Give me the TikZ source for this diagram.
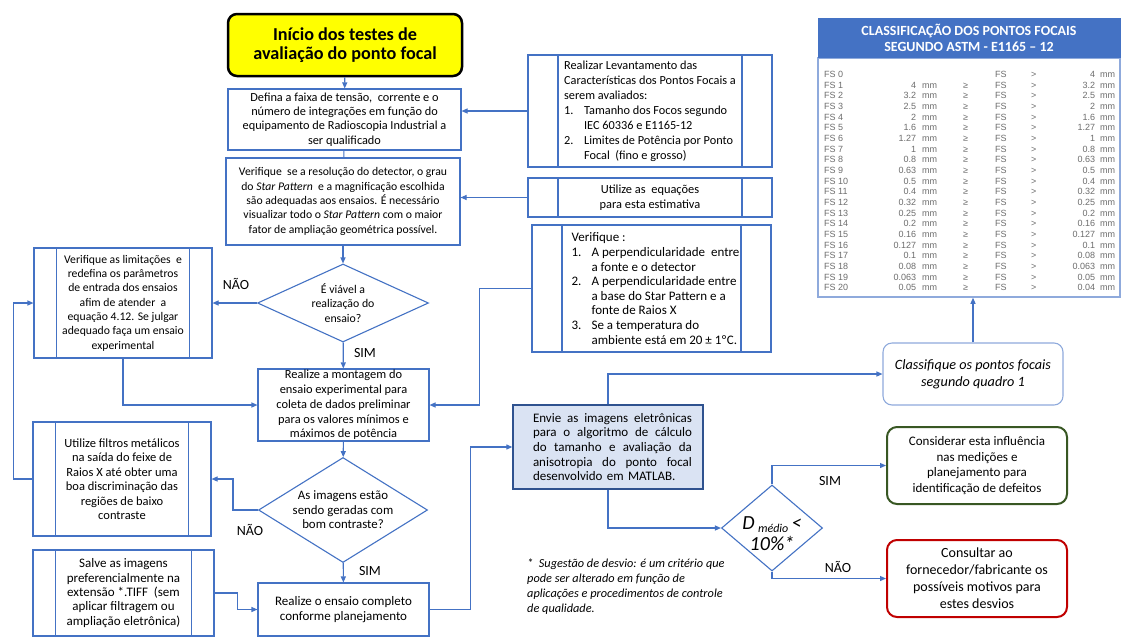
\documentclass[tikz,border=0pt]{standalone}
\usepackage{fontspec}
\setmainfont{Carlito}
\newfontfamily\tabfont{Liberation Sans}
\usepackage{array}
\usetikzlibrary{shapes.geometric,arrows.meta}

\definecolor{azul}{HTML}{4472C4}
\definecolor{azulesc}{HTML}{2F528F}
\definecolor{azulclaro}{HTML}{DAE3F3}
\definecolor{azulborda}{HTML}{8FAADC}
\definecolor{amarelo}{HTML}{FFFF00}
\definecolor{verde}{HTML}{385723}
\definecolor{vermelho}{HTML}{C00000}
\definecolor{cinza}{HTML}{6D6D6D}

% fontes
\newcommand{\tamanho}[2]{\fontsize{#1}{#2}\selectfont}
\newcommand{\corpo}{\tamanho{12.3}{14.3}}
\newcommand{\titulo}{\tamanho{18.2}{18.5}\bfseries}
\newcommand{\tabela}{\tabfont\tamanho{9}{10.65}}
% linhas justificadas e listas numeradas
\newcommand{\linhaj}[1]{\hspace*{9pt}{\spaceskip=0.25em plus 1em\makebox[159pt][s]{#1}}}
\newcommand{\numit}[1]{\makebox[20pt][l]{#1}}
\newcommand{\recuo}{\hspace*{20pt}}
\newcommand{\margem}{\hspace*{8pt}}

\begin{document}
\begin{tikzpicture}[
        x=1pt, y=-1pt,
        >={Triangle[length=6pt,width=5pt]}, % pontas das setas
        seta/.style={->, draw=azul, line width=1.1pt},
        caixa/.style={draw=azul, line width=1.1pt, fill=white, align=center, font=\corpo, inner sep=1pt},
        predef/.style={caixa, path picture={
            \draw[azul, line width=1.1pt]
              ([xshift=#1]path picture bounding box.north west) -- ([xshift=#1]path picture bounding box.south west)
              ([xshift=-#1]path picture bounding box.north east) -- ([xshift=-#1]path picture bounding box.south east);}},
        predef/.default=22.5pt,
        decisao/.style={diamond, draw=azul, line width=1.1pt, fill=white, align=center, font=\corpo, inner sep=0pt},
        rotulo/.style={font=\tamanho{14}{16}, inner sep=0pt}
    ]
    % fundo e tamanho
    \path[fill=white, use as bounding box] (0,0) rectangle (1124,641);

    % coluna central
    \node[draw=black, line width=2.5pt, rounded corners=9pt, fill=amarelo, minimum width=234pt, minimum height=62pt,
          align=center, font=\titulo] (inicio) at (345,45) {Início dos testes de\\avaliação do ponto focal};
    \node[caixa, minimum width=233pt, minimum height=61pt] (defina) at (344.5,119.5)
        {Defina a faixa de tensão,\ \ corrente e o\\número de integrações em função do\\equipamento de Radioscopia Industrial a\\ser qualificado};
    \node[caixa, minimum width=234pt, minimum height=87pt, font=\tamanho{11.7}{14.3}] (verif) at (343,201.5)
        {Verifique\ \ se a resolução do detector, o grau\\do \textit{Star Pattern}\ \ e a magnificação escolhida\\são adequadas aos ensaios. É necessário\\visualizar todo o \textit{Star Pattern} com o maior\\fator de ampliação geométrica possível.};
    \node[decisao, minimum width=171pt, minimum height=78pt, aspect=2.19, font=\tamanho{11.8}{14.8}] (viavel) at (343,303)
        {É viável a\\realização do\\ensaio?};
    \node[caixa, minimum width=171pt, minimum height=72pt, font=\tamanho{12.4}{14.7}] (montagem) at (343.5,405)
        {Realize a montagem do\\ensaio experimental para\\coleta de dados preliminar\\para os valores mínimos e\\máximos de potência};
    \node[decisao, minimum width=169pt, minimum height=105pt, aspect=1.61, inner sep=-1pt, font=\tamanho{12.85}{14.5}] (contraste) at (343,510)
        {As imagens estão\\sendo geradas com\\bom contraste?};
    \node[caixa, minimum width=171pt, minimum height=53pt, font=\tamanho{13}{15}] (completo) at (343.5,609.5)
        {Realize o ensaio completo\\conforme planejamento};

    % coluna da esquerda
    \node[predef, minimum width=178pt, minimum height=110pt, font=\tamanho{11.7}{14.3}] (limites) at (123,303)
        {Verifique as limitações\ \ e\\redefina os parâmetros\\de entrada dos ensaios\\afim de atender\ \ a\\equação 4.12. Se julgar\\adequado faça um ensaio\\experimental};
    \node[predef, minimum width=178pt, minimum height=114pt, font=\tamanho{12.5}{14.5}] (filtros) at (122,479)
        {Utilize filtros metálicos\\na saída do feixe de\\Raios X até obter uma\\boa discriminação das\\regiões de baixo\\contraste};
    \node[predef, minimum width=181pt, minimum height=86pt, font=\tamanho{13}{14.3}] (salve) at (123.5,593)
        {Salve as imagens\\preferencialmente na\\extensão *.TIFF\ \ (sem\\aplicar filtragem ou\\ampliação eletrônica)};

    % coluna da direita
    \node[predef=30pt, minimum width=244pt, minimum height=112pt, align=left, font=\tamanho{12.3}{15}] (levant) at (650,111)
        {Realizar Levantamento das\\Características dos Pontos Focais a\\serem avaliados:\\
         \numit{1.}Tamanho dos Focos segundo\\\recuo IEC 60336 e E1165-12\\
         \numit{2.}Limites de Potência por Ponto\\\recuo Focal\ \ (fino e grosso)};
    \node[predef=30pt, minimum width=244pt, minimum height=39pt, font=\tamanho{12.4}{14.5}] (equacoes) at (650,197.5)
        {Utilize as\ \ equações\\para esta estimativa};
    \node[predef=30pt, minimum width=239pt, minimum height=127pt, align=left, font=\tamanho{13}{14.6}] (verif2) at (651.5,288.5)
        {\margem Verifique :\\
         \margem\numit{1.}A perpendicularidade\ \ entre\\\margem\recuo a fonte e o detector\\
         \margem\numit{2.}A perpendicularidade entre\\\margem\recuo a base do Star Pattern e a\\\margem\recuo fonte de Raios X\\
         \margem\numit{3.}Se a temperatura do\\\margem\recuo ambiente está em 20 ± 1ºC.};

    % envio para o MATLAB e decisão
    \node[draw=azulesc, line width=1.3pt, fill=azulclaro, minimum width=190pt, minimum height=84pt,
          text width=168pt, align=left, font=\tamanho{13}{14.6}] (envie) at (608,447)
        {\linhaj{Envie as imagens eletrônicas}\\\linhaj{para o algoritmo de cálculo}\\\linhaj{do tamanho e avaliação da}\\\linhaj{anisotropia do ponto focal}\\\hspace*{9pt}desenvolvido em MATLAB.};
    \node[decisao, minimum width=101pt, minimum height=86pt, aspect=1.17, inner sep=-5pt,
          font=\tamanho{20}{21}\itshape] (dmedio) at (772,528)
        {\rule{0pt}{24pt}D\,\raisebox{-3pt}{\tamanho{12}{12}médio}\,<\\10\%*};
    \node[anchor=north west, align=left, inner sep=0pt, font=\tamanho{12.3}{15}\itshape] (nota) at (527,559)
        {*\ \ Sugestão de desvio: é um critério que\\pode ser alterado em função de\\aplicações e procedimentos de controle\\de qualidade.};

    % caixas finais
    \node[caixa, rounded corners=9pt, draw=azulborda, minimum width=180pt, minimum height=62pt,
          font=\tamanho{14.2}{17}\itshape] (classif) at (973,374) {Classifique os pontos focais\\segundo quadro 1};
    \node[caixa, rounded corners=10pt, draw=verde, line width=2pt, minimum width=180pt, minimum height=77pt,
          font=\tamanho{13}{15.5}] (influencia) at (977,465.5)
        {Considerar esta influência\\nas medições e\\planejamento para\\identificação de defeitos};
    \node[caixa, rounded corners=10pt, draw=vermelho, line width=2pt, minimum width=180pt, minimum height=77pt,
          font=\tamanho{14}{17}] (fornecedor) at (977,578.5)
        {Consultar ao\\fornecedor/fabricante os\\possíveis motivos para\\estes desvios};

    % quadro ASTM
    \node[draw=azulborda, line width=1.5pt, minimum width=302pt, minimum height=239pt] (quadro) at (969,177.5) {};
    \node[fill=azul, minimum width=303pt, minimum height=40pt, text=white, align=center,
          font=\tamanho{14}{16}\bfseries] (cabec) at (969,38)
        {CLASSIFICAÇÃO DOS PONTOS FOCAIS\\SEGUNDO ASTM - E1165 – 12};
    \node[anchor=north west, inner sep=0pt, font=\tabela, text=cinza] (linhas) at (824,70) {%
        \begin{tabular}{@{}p{57pt}@{}>{\raggedleft\arraybackslash}p{35pt}@{\hspace{6pt}}p{41pt}@{}p{32pt}@{}p{36pt}@{}p{34pt}@{}>{\raggedleft\arraybackslash}p{30pt}@{\hspace{5pt}}l@{}}
        FS 0  &       &    &   & FS & > & 4     & mm\\
        FS 1  & 4     & mm & ≥ & FS & > & 3.2   & mm\\
        FS 2  & 3.2   & mm & ≥ & FS & > & 2.5   & mm\\
        FS 3  & 2.5   & mm & ≥ & FS & > & 2     & mm\\
        FS 4  & 2     & mm & ≥ & FS & > & 1.6   & mm\\
        FS 5  & 1.6   & mm & ≥ & FS & > & 1.27  & mm\\
        FS 6  & 1.27  & mm & ≥ & FS & > & 1     & mm\\
        FS 7  & 1     & mm & ≥ & FS & > & 0.8   & mm\\
        FS 8  & 0.8   & mm & ≥ & FS & > & 0.63  & mm\\
        FS 9  & 0.63  & mm & ≥ & FS & > & 0.5   & mm\\
        FS 10 & 0.5   & mm & ≥ & FS & > & 0.4   & mm\\
        FS 11 & 0.4   & mm & ≥ & FS & > & 0.32  & mm\\
        FS 12 & 0.32  & mm & ≥ & FS & > & 0.25  & mm\\
        FS 13 & 0.25  & mm & ≥ & FS & > & 0.2   & mm\\
        FS 14 & 0.2   & mm & ≥ & FS & > & 0.16  & mm\\
        FS 15 & 0.16  & mm & ≥ & FS & > & 0.127 & mm\\
        FS 16 & 0.127 & mm & ≥ & FS & > & 0.1   & mm\\
        FS 17 & 0.1   & mm & ≥ & FS & > & 0.08  & mm\\
        FS 18 & 0.08  & mm & ≥ & FS & > & 0.063 & mm\\
        FS 19 & 0.063 & mm & ≥ & FS & > & 0.05  & mm\\
        FS 20 & 0.05  & mm & ≥ & FS & > & 0.04  & mm
        \end{tabular}};

    % rótulos SIM / NÃO
    \node[rotulo] (nao1) at (236,284) {NÃO};
    \node[rotulo] (sim1) at (365,353) {SIM};
    \node[rotulo] (nao2) at (250,530) {NÃO};
    \node[rotulo] (sim2) at (370,571) {SIM};
    \node[rotulo] (sim3) at (830,481) {SIM};
    \node[rotulo] (nao3) at (838,567) {NÃO};

    % ligações da coluna central
    \draw[seta] (inicio) -- (defina);
    \draw[draw=azul, line width=1.1pt] (defina) -- (verif);
    \draw[seta] (verif) -- (viavel);
    \draw[seta] (viavel) -- (montagem);
    \draw[seta] (montagem) -- (contraste);
    \draw[seta] (contraste) -- (completo);

    % ligações com a esquerda
    \draw[seta] (viavel.west) -- (limites.east);
    \draw[seta] (limites.south) |- (montagem.west);
    \draw[seta] (contraste.west) -- ++(-25,0) |- (filtros.east);
    \draw[seta] (filtros.west) -- ++(-19,0) |- (limites.west);
    \draw[seta] (salve.east) -- ++(23,0) |- (completo.west);

    % ligações com a direita
    \draw[seta] (levant.west) -- (levant.west -| defina.east);
    \draw[seta] (equacoes.west) -- (equacoes.west -| verif.east);
    \draw[seta] (verif2.west) -- ++(-52,0) |- (montagem.east);
    \draw[seta] (completo.east) -- ++(41,0) |- (envie.west);
    \draw[seta] (envie.north) |- (classif.west);
    \draw[seta] (classif.north) -- (classif.north |- quadro.south);
    \draw[seta] (envie.south) |- (dmedio.west);
    \draw[seta] (dmedio.north) |- (influencia.west);
    \draw[seta] (dmedio.south) |- (fornecedor.west);

\end{tikzpicture}
\end{document}
